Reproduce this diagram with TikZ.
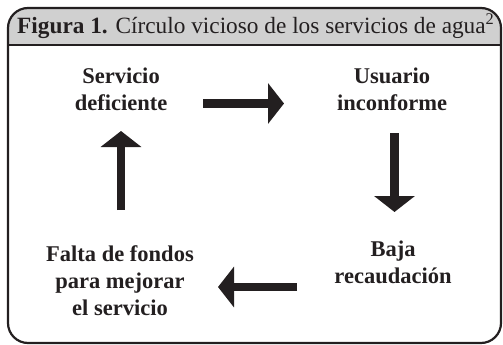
\documentclass[tikz,border=0pt]{standalone}
\usepackage{fontspec}
\setmainfont{Liberation Serif}
\usetikzlibrary{arrows.meta}
\definecolor{headgray}{RGB}{208,208,208}
\definecolor{ink}{RGB}{35,31,32}
\tikzset{
  frame/.style={draw=ink, line width=2.2pt, rounded corners=20pt},
  lbl/.style={font=\fontsize{22.5}{27}\selectfont\bfseries, text=ink, align=center, inner sep=0pt},
  bigarrow/.style={draw=ink, line width=8.5pt, -{Triangle[length=16pt,width=40pt]}}
}
\begin{document}
\begin{tikzpicture}[x=1pt,y=-1pt]
\useasboundingbox (0,0) rectangle (503,345);
\begin{scope}
  \clip[rounded corners=20pt] (8,8) rectangle (501,343);
  \fill[headgray] (0,0) rectangle (503,45);
  \node[anchor=base west, inner sep=0pt, text=ink, font=\fontsize{23.3}{27}\selectfont] (title) at (17,34)
    {\textbf{Figura 1.} Círculo vicioso de los servicios de agua\textsuperscript{2}};
\end{scope}
\draw[frame] (8,8) rectangle (501,343);
\draw[draw=ink, line width=2pt] (8,45) -- (501,45);
\node[lbl, anchor=base] (sd) at (121,110) {Servicio\\deficiente};
\node[lbl, anchor=base] (ui) at (392,110) {Usuario\\inconforme};
\node[lbl, anchor=base] (br) at (393,283) {Baja\\recaudación};
\node[lbl, anchor=base] (ff) at (120,315) {Falta de fondos\\para mejorar\\el servicio};
\coordinate (a1s) at (203,103.5);
\coordinate (a1e) at (284,103.5);
\coordinate (a2s) at (394.5,133);
\coordinate (a2e) at (394.5,212);
\coordinate (a3s) at (297,287);
\coordinate (a3e) at (218,287);
\coordinate (a4s) at (121,210);
\coordinate (a4e) at (121,131);
\draw[bigarrow] (a1s) -- (a1e);
\draw[bigarrow] (a2s) -- (a2e);
\draw[bigarrow] (a3s) -- (a3e);
\draw[bigarrow] (a4s) -- (a4e);
\end{tikzpicture}
\end{document}
